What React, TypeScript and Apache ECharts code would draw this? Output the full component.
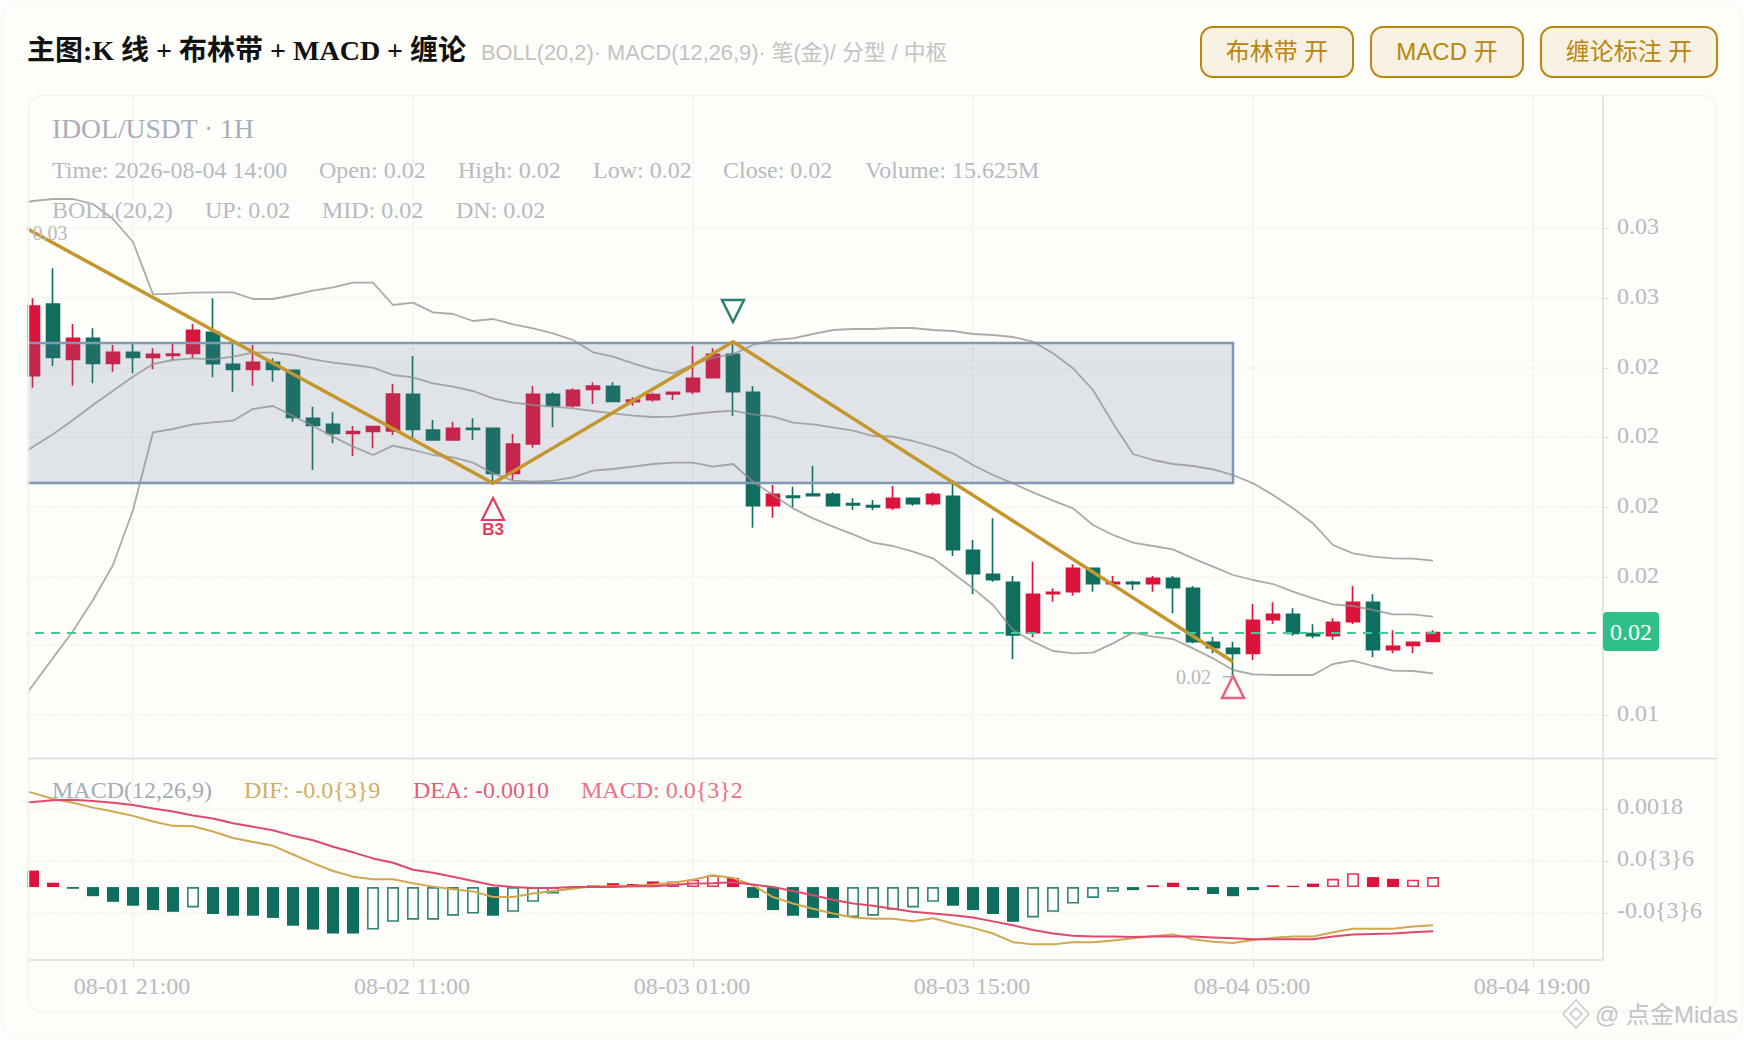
import React, { useEffect, useRef } from "react";
import * as echarts from "echarts";

const SERIF = '"Liberation Serif", "Noto Sans CJK SC", serif';
const SANS = '"Liberation Sans", "Noto Sans CJK SC", sans-serif';
const RED = "#dc143c";
const GREEN = "#0f6e5e";
const GOLD = "#c4962c";

const categories = [
  "08-01 15:00","08-01 16:00","08-01 17:00","08-01 18:00","08-01 19:00","08-01 20:00","08-01 21:00","08-01 22:00","08-01 23:00",
  "08-02 00:00","08-02 01:00","08-02 02:00","08-02 03:00","08-02 04:00","08-02 05:00","08-02 06:00","08-02 07:00","08-02 08:00","08-02 09:00","08-02 10:00","08-02 11:00","08-02 12:00","08-02 13:00","08-02 14:00","08-02 15:00","08-02 16:00","08-02 17:00","08-02 18:00","08-02 19:00","08-02 20:00","08-02 21:00","08-02 22:00","08-02 23:00",
  "08-03 00:00","08-03 01:00","08-03 02:00","08-03 03:00","08-03 04:00","08-03 05:00","08-03 06:00","08-03 07:00","08-03 08:00","08-03 09:00","08-03 10:00","08-03 11:00","08-03 12:00","08-03 13:00","08-03 14:00","08-03 15:00","08-03 16:00","08-03 17:00","08-03 18:00","08-03 19:00","08-03 20:00","08-03 21:00","08-03 22:00","08-03 23:00",
  "08-04 00:00","08-04 01:00","08-04 02:00","08-04 03:00","08-04 04:00","08-04 05:00","08-04 06:00","08-04 07:00","08-04 08:00","08-04 09:00","08-04 10:00","08-04 11:00","08-04 12:00","08-04 13:00","08-04 14:00","08-04 15:00","08-04 16:00","08-04 17:00","08-04 18:00","08-04 19:00","08-04 20:00","08-04 21:00","08-04 22:00",
];

// Prices below are stored in units of 0.00001. Candles begin at the second category.
const opens = [2423,2638,2472,2535,2460,2493,2478,2484,2490,2553,2457,2442,2463,2439,2295,2277,2250,2256,2257,2367,2260,2230,2265,2265,2130,2218,2367,2333,2382,2391,2345,2351,2368,2375,2417,2487,2373,2033,2062,2068,2067,2039,2033,2027,2055,2039,2061,1899,1827,1803,1652,1769,1775,1845,1799,1803,1799,1815,1785,1623,1605,1590,1691,1707,1649,1643,1685,1743,1601,1614,1626];
const closes = [2632,2478,2535,2460,2493,2478,2487,2488,2559,2459,2442,2463,2442,2298,2274,2250,2255,2270,2368,2262,2230,2265,2262,2130,2218,2367,2333,2379,2392,2346,2350,2366,2373,2415,2487,2375,2033,2067,2058,2063,2033,2035,2029,2055,2039,2067,1901,1829,1811,1645,1767,1773,1845,1799,1803,1799,1815,1787,1625,1607,1590,1689,1707,1650,1643,1683,1743,1601,1611,1623,1652];
const highs = [2655,2745,2578,2565,2515,2523,2505,2523,2578,2655,2523,2515,2475,2440,2330,2313,2272,2272,2398,2482,2290,2285,2295,2265,2248,2392,2373,2385,2403,2403,2358,2372,2373,2512,2505,2525,2392,2095,2090,2152,2073,2055,2050,2092,2055,2073,2110,1930,1995,1822,1865,1785,1857,1845,1822,1808,1822,1822,1792,1640,1625,1738,1743,1725,1677,1695,1792,1767,1659,1625,1659];
const lows = [2387,2452,2393,2400,2435,2430,2442,2470,2475,2418,2375,2393,2405,2285,2140,2220,2182,2205,2245,2235,2230,2230,2230,2095,2108,2207,2268,2327,2338,2346,2333,2345,2350,2368,2417,2302,1967,1997,2028,2063,2033,2020,2020,2020,2033,2033,1882,1768,1805,1572,1638,1745,1763,1775,1799,1780,1775,1710,1620,1590,1520,1570,1678,1643,1635,1631,1678,1578,1590,1590,1626];

const bollUpper = [2935,2947,2953,2953,2938,2893,2824,2667,2669,2672,2673,2673,2653,2653,2665,2678,2688,2702,2702,2635,2642,2613,2608,2587,2593,2577,2565,2550,2530,2493,2480,2460,2442,2430,2455,2477,2487,2515,2530,2535,2548,2560,2563,2563,2566,2566,2560,2557,2548,2545,2539,2525,2490,2445,2380,2280,2188,2170,2158,2152,2142,2125,2100,2065,2025,1980,1915,1890,1880,1875,1874,1868];
const bollMid = [2170,2210,2247,2290,2335,2378,2420,2458,2470,2475,2472,2480,2492,2492,2485,2472,2462,2455,2447,2425,2418,2400,2390,2377,2355,2342,2335,2330,2325,2317,2310,2303,2299,2300,2308,2314,2318,2307,2300,2282,2277,2268,2258,2242,2240,2227,2210,2190,2155,2125,2100,2073,2048,2025,1975,1945,1922,1912,1902,1875,1850,1825,1810,1798,1775,1755,1737,1732,1720,1707,1707,1700];
const bollLower = [1414,1495,1576,1657,1750,1855,2020,2253,2263,2277,2283,2288,2323,2332,2302,2272,2240,2210,2185,2213,2200,2185,2178,2162,2130,2108,2105,2108,2118,2138,2143,2150,2158,2162,2162,2150,2158,2105,2065,2025,1995,1970,1947,1922,1912,1895,1875,1830,1785,1735,1660,1625,1597,1590,1592,1620,1652,1640,1633,1605,1575,1540,1527,1525,1525,1525,1558,1568,1552,1538,1537,1530];

// Chan pen vertices: [category index, price]
const penPoints: [number, number][] = [[0,2887],[24,2100],[36,2525],[61,1565]];
const zoneTop = 2521;
const zoneBottom = 2101;
const zoneFrom = 0;
const zoneTo = 61;
const lastPrice = 1651;

const priceTicks = [2866,2656,2446,2239,2029,1819,1615,1405];
const priceLabelTicks = [2866,2656,2446,2239,2029,1819,1405];

// MACD (units of 0.00001), starting at the second category for bars
const macdBars = [38,10,-4,-21,-34,-43,-53,-57,-47,-62,-66,-66,-71,-89,-98,-107,-107,-98,-80,-75,-75,-66,-61,-66,-57,-34,-15,-4,4,9,7,13,13,17,27,21,-25,-53,-66,-71,-71,-69,-66,-52,-47,-34,-43,-53,-62,-80,-70,-57,-38,-25,-11,-7,4,10,-7,-16,-21,-7,4,3,8,19,32,23,19,17,23];
const macdHollow = [9,18,19,20,21,22,23,25,26,27,33,34,35,42,43,44,45,46,51,52,53,54,55,66,67,70,71];
const difLine = [225,217,203,194,183,174,164,151,141,140,128,113,104,95,75,55,37,24,18,18,9,1,-5,-10,-23,-23,-15,-9,-4,2,2,3,6,10,17,27,21,4,-23,-38,-50,-61,-70,-73,-73,-79,-72,-84,-94,-107,-127,-132,-132,-127,-127,-123,-118,-113,-109,-120,-126,-129,-122,-117,-114,-114,-104,-96,-96,-96,-91,-88];
const deaLine = [194,196,200,201,198,194,189,181,174,165,158,147,139,131,118,108,93,80,66,56,40,33,24,14,4,0,-2,-2,0,0,0,2,2,5,8,9,11,6,0,-9,-19,-29,-38,-43,-50,-57,-61,-65,-70,-79,-88,-99,-107,-112,-114,-114,-115,-114,-114,-114,-116,-118,-120,-120,-120,-120,-114,-109,-108,-107,-104,-102];
const macdTicks = [0.0018, 0.0006, -0.0006];
const macdTickLabels = ["0.0018", "0.0{3}6", "-0.0{3}6"];

const titleText = "主图:K 线 + 布林带 + MACD + 缠论";
const subtitleText = "BOLL(20,2)· MACD(12,26,9)· 笔(金)/ 分型 / 中枢";
const buttons = [
  { text: "布林带 开", x: 1201, w: 152 },
  { text: "MACD 开", x: 1371, w: 152 },
  { text: "缠论标注 开", x: 1541, w: 176 },
];
const infoRows = [
  { y: 170, items: [["Time: 2026-08-04 14:00", 52], ["Open: 0.02", 319], ["High: 0.02", 458], ["Low: 0.02", 593], ["Close: 0.02", 723], ["Volume: 15.625M", 865]] },
  { y: 210, items: [["BOLL(20,2)", 52], ["UP: 0.02", 205], ["MID: 0.02", 322], ["DN: 0.02", 456]] },
];
const macdInfo: [string, number, string][] = [
  ["MACD(12,26,9)", 52, "#a5acb8"],
  ["DIF: -0.0{3}9", 244, "#d2ae62"],
  ["DEA: -0.0010", 413, "#e4607a"],
  ["MACD: 0.0{3}2", 581, "#ea7288"],
];

const px = (u: number) => u / 1e5;
const showLabel = (i: number) => (i - 6) % 14 === 0 && i >= 0;

function buildOption() {
  const candleData: any[] = ["-", ...opens.map((o, i) => [px(o), px(closes[i]), px(lows[i]), px(highs[i])])];
  const penData: any[] = categories.map(() => null);
  penPoints.forEach(([i, v]) => (penData[i] = px(v)));
  const barData: any[] = ["-", ...macdBars.map((v, k) => {
    const i = k + 1;
    const c = v >= 0 ? RED : GREEN;
    const hollow = macdHollow.includes(i);
    return {
      value: px(v),
      itemStyle: hollow
        ? { color: "#fdfdfa", borderColor: c, borderWidth: 1.6, opacity: 0.85 }
        : { color: c },
    };
  })];
  const bollLine = (name: string, data: number[]) => ({
    name,
    type: "line",
    data: data.map(px),
    symbol: "none",
    xAxisIndex: 0,
    yAxisIndex: 0,
    z: 3,
    silent: true,
    lineStyle: { color: "#8f8f8f", width: 1.8, opacity: 0.75 },
  });

  const graphic: any[] = [
    { type: "rect", z: -5, shape: { x: 28.5, y: 95.5, width: 1688, height: 916, r: 14 }, style: { fill: "#fdfdfa", stroke: "#f3f3ef", lineWidth: 1.5 } },
    // mask over the part of the first bands that lies left of the panel
    { type: "rect", z: 50, shape: { x: 3, y: 96, width: 24.5, height: 866 }, style: { fill: "#fdfdfa" } },
    { type: "line", z: 51, shape: { x1: 28.5, y1: 110, x2: 28.5, y2: 1000 }, style: { stroke: "#f3f3ef", lineWidth: 1.5 } },
    { type: "line", z: 51, shape: { x1: 28, y1: 758.5, x2: 1717, y2: 758.5 }, style: { stroke: "#dcdcdc", lineWidth: 1.5 } },
    { type: "text", z: 60, style: { text: titleText, x: 27, y: 50, font: `bold 28px ${SERIF}`, fill: "#111111", textVerticalAlign: "middle" } },
    { type: "text", z: 60, style: { text: subtitleText, x: 481, y: 52, font: `21.8px ${SANS}`, fill: "#c3c3c3", textVerticalAlign: "middle" } },
    { type: "text", z: 60, style: { text: "IDOL/USDT · 1H", x: 52, y: 128, font: `27.6px ${SERIF}`, fill: "#a8aeb9", textVerticalAlign: "middle" } },
  ];
  buttons.forEach((b) => {
    graphic.push({ type: "rect", z: 60, shape: { x: b.x, y: 27, width: b.w, height: 50, r: 12 }, style: { fill: "#f7f1e4", stroke: "#b8860b", lineWidth: 2 } });
    graphic.push({ type: "text", z: 61, style: { text: b.text, x: b.x + b.w / 2, y: 51, font: `24px ${SANS}`, fill: "#b8860b", textAlign: "center", textVerticalAlign: "middle" } });
  });
  infoRows.forEach((row) =>
    row.items.forEach(([t, x]) =>
      graphic.push({ type: "text", z: 60, style: { text: t, x, y: row.y, font: `24px ${SERIF}`, fill: "#b6bac2", textVerticalAlign: "middle" } })
    )
  );
  macdInfo.forEach(([t, x, c]) =>
    graphic.push({ type: "text", z: 60, style: { text: t, x, y: 790, font: `24px ${SERIF}`, fill: c, textVerticalAlign: "middle" } })
  );
  // watermark
  graphic.push(
    { type: "polygon", z: 60, shape: { points: [[1576, 1000], [1589, 1014], [1576, 1028], [1563, 1014]] }, style: { fill: "none", stroke: "#c9c9c9", lineWidth: 1.5 } },
    { type: "polygon", z: 60, shape: { points: [[1576, 1008], [1582, 1014], [1576, 1020], [1570, 1014]] }, style: { fill: "none", stroke: "#c9c9c9", lineWidth: 1.5 } },
    { type: "text", z: 60, style: { text: "@ 点金Midas", x: 1595, y: 1014, font: `24px ${SANS}`, fill: "#c4c4c4", textVerticalAlign: "middle" } }
  );

  return {
    animation: false,
    backgroundColor: "transparent",
    textStyle: { fontFamily: SERIF },
    graphic,
    grid: [
      { left: 3, width: 1600, top: 95, height: 663 },
      { left: 3, width: 1600, top: 759, height: 201 },
    ],
    xAxis: [
      {
        type: "category", gridIndex: 0, data: categories, boundaryGap: true,
        axisLine: { show: false, onZero: false }, axisTick: { show: false }, axisLabel: { show: false },
        splitLine: { show: true, alignWithLabel: true, interval: (i: number) => showLabel(i), lineStyle: { color: "#efefec", type: "dashed", width: 1.5 } },
      },
      {
        type: "category", gridIndex: 1, data: categories, boundaryGap: true,
        axisLine: { show: true, onZero: false, lineStyle: { color: "#dedede", width: 1.5 } },
        axisTick: { show: true, alignWithLabel: true, length: 7, interval: (i: number) => showLabel(i), lineStyle: { color: "#dedede" } },
        axisLabel: { show: true, interval: (i: number) => showLabel(i), color: "#b7bac0", fontSize: 24, fontFamily: SERIF, margin: 14, padding: [0, 2, 0, 0] },
        splitLine: { show: true, alignWithLabel: true, interval: (i: number) => showLabel(i), lineStyle: { color: "#efefec", type: "dashed", width: 1.5 } },
      },
    ],
    yAxis: [
      {
        type: "value", gridIndex: 0, position: "right", min: 0.01276, max: 0.03265, scale: true,
        axisLine: { show: true, lineStyle: { color: "#dedede", width: 1.5 } },
        axisTick: { show: true, length: 6, customValues: priceTicks.map(px), lineStyle: { color: "#dedede" } },
        axisLabel: {
          show: true, customValues: priceLabelTicks.map(px), formatter: (v: number) => `{t|${v.toFixed(2)}}`,
          margin: 14, rich: { t: { color: "#b7bac0", fontSize: 24, fontFamily: SERIF, padding: [0, 0, 5, 0] } },
        },
        splitLine: { show: true, lineStyle: { color: "#eeeeea", type: "dotted", width: 1.5 } },
      },
      {
        type: "value", gridIndex: 1, position: "right", min: -0.00168, max: 0.00295,
        axisLine: { show: true, lineStyle: { color: "#dedede", width: 1.5 } },
        axisTick: { show: true, length: 6, customValues: macdTicks, lineStyle: { color: "#dedede" } },
        axisLabel: {
          show: true, customValues: macdTicks,
          formatter: (v: number) => macdTickLabels[macdTicks.indexOf(v)] ?? "",
          color: "#b7bac0", fontSize: 24, fontFamily: SERIF, margin: 14, verticalAlign: "bottom", lineHeight: 6,
        },
        splitLine: { show: true, lineStyle: { color: "#eeeeea", type: "dotted", width: 1.5 } },
      },
    ],
    series: [
      {
        name: "K", type: "candlestick", xAxisIndex: 0, yAxisIndex: 0, data: candleData, barWidth: 13, z: 2,
        itemStyle: { color: RED, color0: GREEN, borderColor: RED, borderColor0: GREEN, borderWidth: 1.6 },
      },
      bollLine("UP", bollUpper),
      bollLine("MID", bollMid),
      bollLine("DN", bollLower),
      {
        name: "笔", type: "line", xAxisIndex: 0, yAxisIndex: 0, data: penData, connectNulls: true, symbol: "none", z: 4,
        lineStyle: { color: GOLD, width: 3.5 },
        markArea: {
          silent: true, z: 2.5,
          itemStyle: { color: "rgba(100,118,150,0.19)", borderColor: "#8297b4", borderWidth: 2.5 },
          data: [[{ xAxis: zoneFrom, yAxis: px(zoneTop) }, { xAxis: zoneTo, yAxis: px(zoneBottom) }]],
        },
        markLine: {
          silent: true, symbol: "none", precision: 5, z: 5,
          lineStyle: { color: "#3fcb98", type: [9, 7], width: 2 },
          label: {
            position: "end", distance: 0, offset: [0, -1.5], formatter: (p: any) => Number(p.value).toFixed(2), color: "#ffffff",
            fontSize: 24, fontFamily: SERIF, backgroundColor: "#2fbf8a", padding: [8, 7, 7, 7], borderRadius: 4,
          },
          data: [{ yAxis: px(lastPrice) }],
        },
        markPoint: {
          silent: true,
          data: [
            {
              coord: [24, px(2023)], symbol: "triangle", symbolSize: [22, 22],
              itemStyle: { color: "rgba(253,253,250,0)", borderColor: "#e23c60", borderWidth: 2.2 },
              label: { show: true, position: "bottom", distance: 0, formatter: "B3", color: "#e23c60", fontSize: 17, fontWeight: "bold", fontFamily: SANS },
            },
            {
              coord: [36, px(2617)], symbol: "triangle", symbolRotate: 180, symbolSize: [22, 22],
              itemStyle: { color: "rgba(253,253,250,0)", borderColor: "#2b8070", borderWidth: 2.5 },
              label: { show: false },
            },
            {
              coord: [61, px(1489)], symbol: "triangle", symbolSize: [22, 22],
              itemStyle: { color: "rgba(253,253,250,0)", borderColor: "#e8617e", borderWidth: 2.5 },
              label: { show: false },
            },
            {
              coord: [2, px(2851)], symbol: "rect", symbolSize: 1,
              itemStyle: { color: "rgba(0,0,0,0)" },
              label: { show: true, position: "inside", offset: [-3, 0], formatter: "0.03", color: "#b7bac0", fontSize: 20, fontFamily: SERIF },
            },
            {
              coord: [61, px(1520)], symbol: "rect", symbolSize: [10, 1.5], symbolOffset: [-5, 0],
              itemStyle: { color: "#a8aeb9" },
              label: { show: true, position: "left", distance: 12, formatter: "0.02", color: "#b7bac0", fontSize: 20, fontFamily: SERIF },
            },
          ],
        },
      },
      {
        name: "MACD", type: "bar", xAxisIndex: 1, yAxisIndex: 1, data: barData, barWidth: 12, z: 2,
      },
      {
        name: "DIF", type: "line", xAxisIndex: 1, yAxisIndex: 1, data: difLine.map(px), symbol: "none", z: 3,
        lineStyle: { color: "#cfa850", width: 2 },
      },
      {
        name: "DEA", type: "line", xAxisIndex: 1, yAxisIndex: 1, data: deaLine.map(px), symbol: "none", z: 4,
        lineStyle: { color: "#e0486c", width: 2 },
      },
    ],
  };
}

export default function App() {
  const ref = useRef<HTMLDivElement>(null);
  useEffect(() => {
    const chart = echarts.init(ref.current!, undefined, { renderer: "svg", width: 1744, height: 1040 });
    chart.setOption(buildOption() as any);
    return () => chart.dispose();
  }, []);
  return (
    <div style={{ position: "fixed", left: 0, top: 0, width: 1744, height: 1040, background: "#ffffff" }}>
      <div
        style={{
          position: "absolute", left: 1, top: 1, width: 1740, height: 1036, background: "#fdfdfa",
          border: "1.5px solid #f5f5f2", borderRadius: 16,
        }}
      />
      <div ref={ref} style={{ position: "absolute", left: 0, top: 0, width: 1744, height: 1040 }} />
    </div>
  );
}
